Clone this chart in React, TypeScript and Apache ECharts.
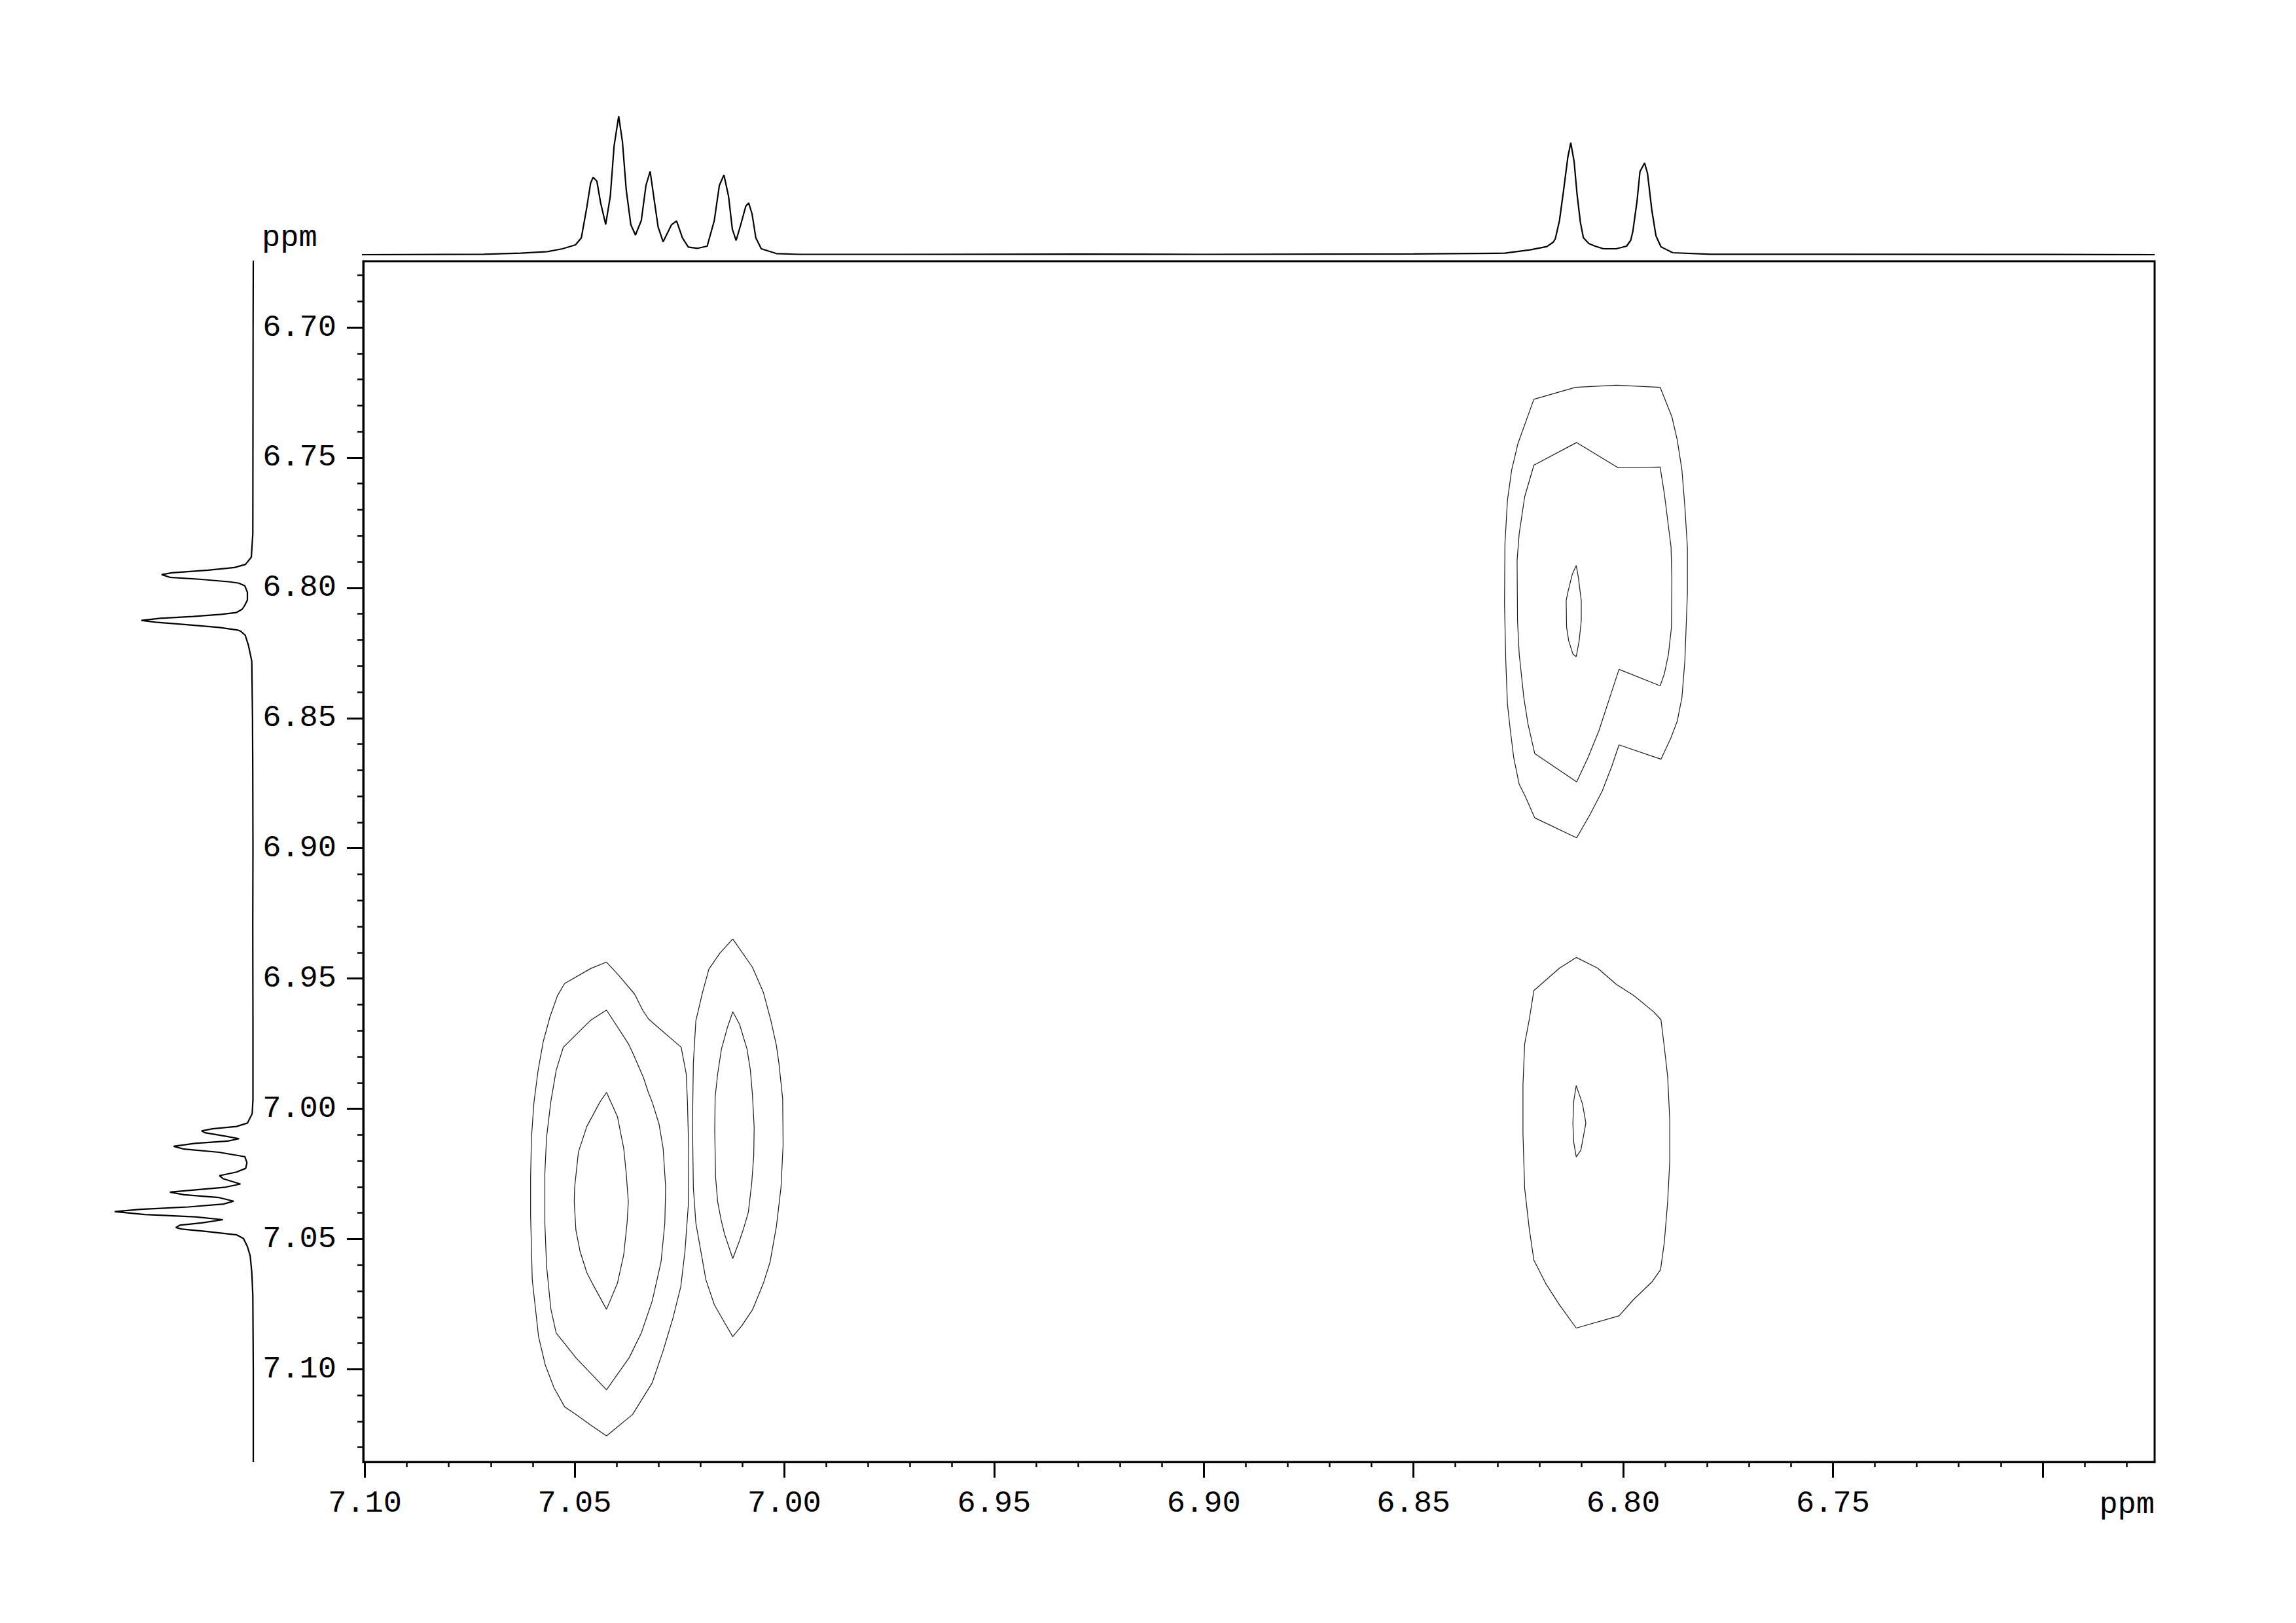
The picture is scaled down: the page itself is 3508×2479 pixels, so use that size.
import React, { useEffect, useRef } from "react";
import * as echarts from "echarts";

// ---- axis ranges (ppm) ----
const X_MIN = 6.6733;
const X_MAX = 7.1004;
const Y_MIN = 6.6746;
const Y_MAX = 7.1356;
const INT_MAX = 230;

// ---- tick positions / labels ----
const xMajorTicks = [7.1, 7.05, 7.0, 6.95, 6.9, 6.85, 6.8, 6.75, 6.7];
const xTickLabels = [7.1, 7.05, 7.0, 6.95, 6.9, 6.85, 6.8, 6.75];
const yMajorTicks = [6.7, 6.75, 6.8, 6.85, 6.9, 6.95, 7.0, 7.05, 7.1];
const yTickLabels = [6.7, 6.75, 6.8, 6.85, 6.9, 6.95, 7.0, 7.05, 7.1];
const xMinorTicks: number[] = [];
for (let k = 668; k <= 710; k++) xMinorTicks.push(k / 100);
const yMinorTicks: number[] = [];
for (let k = 668; k <= 713; k++) yMinorTicks.push(k / 100);

// ---- 1D projection spectrum (ppm, intensity) ----
const spectrumPpm = [
  7.1356, 7.1004, 7.0717, 7.0628, 7.0565, 7.0529, 7.0498, 7.0484, 7.0471, 7.0462,
  7.0456, 7.0447, 7.0438, 7.0426, 7.0415, 7.0406, 7.0395, 7.0386, 7.0377, 7.0366,
  7.0355, 7.0341, 7.033, 7.032, 7.031, 7.0301, 7.0289, 7.0269, 7.0257, 7.0243,
  7.0229, 7.0207, 7.0184, 7.0167, 7.0155, 7.0144, 7.0133, 7.0124, 7.0115, 7.0104,
  7.0092, 7.0085, 7.0077, 7.0068, 7.0055, 7.0019, 6.9965, 6.97, 6.93, 6.9,
  6.87, 6.85, 6.8282, 6.8222, 6.8182, 6.8167, 6.8162, 6.8152, 6.8142, 6.8132,
  6.8125, 6.8117, 6.811, 6.8102, 6.8095, 6.8082, 6.8067, 6.8047, 6.8017, 6.7992,
  6.7982, 6.7977, 6.7967, 6.796, 6.7949, 6.7942, 6.7932, 6.7922, 6.791, 6.7882,
  6.7792, 6.7, 6.6733,
];
const spectrumIntensity = [
  0, 0, 0.7, 2.3, 4.7, 9, 15, 25.7, 72.3, 109,
  118.3, 112.3, 79, 46.3, 89, 165.7, 211.7, 172.3, 99, 45.7,
  30, 52.3, 105.7, 127.3, 82.3, 42.3, 19.7, 45.7, 51.7, 25.7,
  11.7, 9.7, 13, 52.3, 105.7, 121.7, 89, 39, 21.7, 45.7,
  74, 79, 62.3, 25.7, 9, 1.7, 0.5, 0.5, 0.8, 0.5,
  0.8, 1.2, 2.3, 7.3, 12.3, 19, 24, 52, 99, 149,
  171, 142, 92, 49, 26, 17, 13, 9, 9, 13,
  22, 35.7, 82, 127, 140, 124, 69, 29, 12, 3,
  0.7, 0.3, 0,
];

// ---- 2D contour levels, traced as [F2 ppm, F1 ppm] vertices ----
const contourA1 = [
  [7.0424, 6.9437], [7.0461, 6.9461], [7.0524, 6.9519], [7.0541, 6.9566], [7.0559, 6.9648],
  [7.0575, 6.9743], [7.0587, 6.9852], [7.0597, 6.9975], [7.0603, 7.0111], [7.0605, 7.0261],
  [7.0605, 7.0411], [7.0601, 7.0657], [7.0586, 7.0875], [7.057, 7.0984], [7.0549, 7.1072],
  [7.0524, 7.1144], [7.0497, 7.1174], [7.0461, 7.1215], [7.0424, 7.1256], [7.0362, 7.1174],
  [7.0315, 7.1052], [7.0289, 7.0929], [7.0266, 7.0806], [7.0247, 7.0684], [7.0237, 7.0548],
  [7.0229, 7.037], [7.0228, 7.0166], [7.0231, 6.9975], [7.0234, 6.9866], [7.0246, 6.9764],
  [7.031, 6.9675], [7.0324, 6.9655], [7.0338, 6.9621], [7.0357, 6.956], [7.0393, 6.9491],
];
const contourA2 = [
  [7.0424, 6.9621], [7.0461, 6.9659], [7.0527, 6.9764], [7.0544, 6.9852], [7.0557, 6.9975],
  [7.0567, 7.0111], [7.0571, 7.0248], [7.0571, 7.0439], [7.0567, 7.0602], [7.0557, 7.0766],
  [7.0544, 7.0861], [7.0527, 7.0895], [7.0497, 7.0956], [7.044, 7.1052], [7.0424, 7.1079],
  [7.0403, 7.1031], [7.037, 7.0956], [7.0341, 7.0861], [7.0315, 7.0738], [7.0294, 7.0588],
  [7.0285, 7.0439], [7.0283, 7.0302], [7.0289, 7.0152], [7.0299, 7.0057], [7.0315, 6.9975],
  [7.0325, 6.9934], [7.0336, 6.988], [7.0362, 6.9784], [7.0372, 6.975],
];
const contourA3 = [
  [7.0424, 6.9937], [7.044, 6.9975], [7.0471, 7.0068], [7.0491, 7.0166], [7.05, 7.0302],
  [7.0501, 7.0357], [7.0497, 7.0466], [7.0487, 7.0548], [7.0471, 7.0629], [7.0458, 7.067],
  [7.0424, 7.077], [7.0398, 7.067], [7.0383, 7.0561], [7.0375, 7.0439], [7.0372, 7.0357],
  [7.0377, 7.0248], [7.0383, 7.0152], [7.0398, 7.003],
];
const contourB1 = [
  [7.0123, 6.9348], [7.0154, 6.9403], [7.018, 6.9464], [7.0195, 6.9553], [7.0211, 6.9662],
  [7.0217, 6.9825], [7.0219, 7.0057], [7.0217, 7.0302], [7.0211, 7.0439], [7.0196, 7.0575],
  [7.0187, 7.0657], [7.0167, 7.0752], [7.0143, 7.082], [7.0123, 7.0875], [7.0102, 7.0834],
  [7.0076, 7.0772], [7.005, 7.067], [7.0034, 7.0588], [7.0019, 7.0452], [7.0008, 7.0302],
  [7.0003, 7.0139], [7.0004, 6.9962], [7.0013, 6.9825], [7.0019, 6.9757], [7.0032, 6.9662],
  [7.005, 6.9553], [7.0076, 6.9457],
];
const contourB2 = [
  [7.0123, 6.9628], [7.0136, 6.9689], [7.015, 6.9771], [7.0159, 6.9866], [7.0165, 6.9955],
  [7.0166, 7.0084], [7.0164, 7.0261], [7.0159, 7.0357], [7.0151, 7.0425], [7.0143, 7.0479],
  [7.0123, 7.0575], [7.0107, 7.0507], [7.0097, 7.0459], [7.0086, 7.0398], [7.0078, 7.0289],
  [7.0073, 7.018], [7.0072, 7.0071], [7.0076, 6.9948], [7.0081, 6.9852], [7.0089, 6.9771],
  [7.0107, 6.9675],
];
const contourC1 = [
  [6.8213, 6.7276], [6.8114, 6.723], [6.8016, 6.7222], [6.7912, 6.723], [6.7884, 6.7343],
  [6.7871, 6.7433], [6.786, 6.7548], [6.7853, 6.7689], [6.7847, 6.7843], [6.7847, 6.8023],
  [6.7853, 6.828], [6.786, 6.8421], [6.7871, 6.8511], [6.7886, 6.8575], [6.791, 6.8658],
  [6.801, 6.8603], [6.8027, 6.8684], [6.805, 6.878], [6.8079, 6.887], [6.8111, 6.896],
  [6.8211, 6.8883], [6.8232, 6.8806], [6.8248, 6.8754], [6.8261, 6.8652], [6.8269, 6.8549],
  [6.8276, 6.8446], [6.828, 6.828], [6.8283, 6.8062], [6.8282, 6.7831], [6.8276, 6.7664],
  [6.8266, 6.7548], [6.8251, 6.7446],
];
const contourC2 = [
  [6.8213, 6.7529], [6.8111, 6.7442], [6.8012, 6.7539], [6.7912, 6.7536], [6.7902, 6.7638],
  [6.7892, 6.7766], [6.7886, 6.7843], [6.7884, 6.7972], [6.7885, 6.8151], [6.7892, 6.8254],
  [6.7902, 6.8331], [6.7912, 6.8376], [6.801, 6.8313], [6.8032, 6.8421], [6.8058, 6.8549],
  [6.8084, 6.8652], [6.8111, 6.8745], [6.8211, 6.8636], [6.8227, 6.8523], [6.8237, 6.8421],
  [6.8248, 6.8254], [6.8252, 6.8126], [6.8253, 6.7895], [6.8248, 6.7792], [6.8235, 6.7651],
];
const contourC3 = [
  [6.8112, 6.7914], [6.8121, 6.7946], [6.8131, 6.801], [6.8136, 6.8049], [6.8135, 6.8151],
  [6.813, 6.8203], [6.812, 6.8254], [6.8112, 6.8264], [6.8105, 6.8203], [6.81, 6.8126],
  [6.81, 6.8049], [6.8107, 6.7959],
];
const contourD1 = [
  [6.8112, 6.9419], [6.8152, 6.946], [6.8213, 6.9546], [6.8224, 6.9658], [6.8235, 6.9752],
  [6.8239, 6.9909], [6.8239, 7.0096], [6.8235, 7.0305], [6.8224, 7.0461], [6.8213, 7.0581],
  [6.8185, 7.067], [6.8152, 7.0753], [6.8112, 7.0842], [6.801, 7.0795], [6.7975, 7.0732],
  [6.7931, 7.0664], [6.7911, 7.0618], [6.7902, 7.0513], [6.7894, 7.0357], [6.7889, 7.0201],
  [6.7889, 7.0044], [6.7894, 6.9877], [6.7902, 6.9763], [6.791, 6.9658], [6.7928, 6.9627],
  [6.7975, 6.9565], [6.8016, 6.9523], [6.8061, 6.946],
];
const contourD2 = [
  [6.8112, 6.9911], [6.8118, 6.9971], [6.812, 7.0055], [6.8118, 7.0128], [6.8112, 7.0185],
  [6.8101, 7.0159], [6.8089, 7.0055], [6.8097, 6.9982],
];
const contours = [
  contourA1, contourA2, contourA3, contourB1, contourB2,
  contourC1, contourC2, contourC3, contourD1, contourD2,
];

const FONT = "'Liberation Mono', 'DejaVu Sans Mono', monospace";
const FONT_SIZE = 47;

export default function App() {
  const ref = useRef<HTMLDivElement>(null);

  useEffect(() => {
    if (!ref.current) return;
    const chart = echarts.init(ref.current, null, { renderer: "svg" });

    const fmt = (v: number) => Number(v).toFixed(2);

    const topData = spectrumPpm.map((p, i) => [p, spectrumIntensity[i]]);
    const leftData = spectrumPpm.map((p, i) => [spectrumIntensity[i], p]);

    const contourSeries = contours.map((c) => ({
      type: "line",
      xAxisIndex: 0,
      yAxisIndex: 0,
      data: [...c, c[0]],
      showSymbol: false,
      symbol: "none",
      silent: true,
      clip: true,
      lineStyle: { color: "#1a1a1a", width: 1.2 },
      z: 3,
    }));

    const option: any = {
      animation: false,
      backgroundColor: "#ffffff",
      grid: [
        {
          left: 555, top: 399, width: 2737, height: 1834,
          show: true, borderColor: "#000", borderWidth: 3,
          backgroundColor: "transparent", containLabel: false,
        },
        { left: 555, top: 389 - INT_MAX, width: 2737, height: INT_MAX, containLabel: false },
        { left: 387 - INT_MAX, top: 399, width: INT_MAX, height: 1834, containLabel: false },
      ],
      xAxis: [
        {
          gridIndex: 0, type: "value", min: X_MIN, max: X_MAX, inverse: true,
          position: "bottom", splitLine: { show: false },
          axisLine: { show: true, onZero: false, lineStyle: { color: "#000", width: 3 } },
          axisTick: {
            show: true, customValues: xMajorTicks, length: 24, inside: false,
            lineStyle: { color: "#000", width: 3 },
          },
          axisLabel: {
            show: true, customValues: xTickLabels, formatter: fmt, margin: 40,
            color: "#000", fontFamily: FONT, fontSize: FONT_SIZE,
          },
        },
        {
          gridIndex: 0, type: "value", min: X_MIN, max: X_MAX, inverse: true,
          position: "bottom", splitLine: { show: false },
          axisLine: { show: false, onZero: false },
          axisTick: {
            show: true, customValues: xMinorTicks, length: 8, inside: false,
            lineStyle: { color: "#000", width: 2.5 },
          },
          axisLabel: { show: false },
        },
        {
          gridIndex: 1, type: "value", min: X_MIN, max: X_MAX, inverse: true, show: false,
        },
        {
          gridIndex: 2, type: "value", min: 0, max: INT_MAX, inverse: true, show: false,
        },
      ],
      yAxis: [
        {
          gridIndex: 0, type: "value", min: Y_MIN, max: Y_MAX, inverse: true,
          position: "left", splitLine: { show: false },
          axisLine: { show: true, onZero: false, lineStyle: { color: "#000", width: 3 } },
          axisTick: {
            show: true, customValues: yMajorTicks, length: 25, inside: false,
            lineStyle: { color: "#000", width: 3 },
          },
          axisLabel: {
            show: true, customValues: yTickLabels, formatter: fmt, margin: 41,
            color: "#000", fontFamily: FONT, fontSize: FONT_SIZE,
          },
        },
        {
          gridIndex: 0, type: "value", min: Y_MIN, max: Y_MAX, inverse: true,
          position: "left", splitLine: { show: false },
          axisLine: { show: false, onZero: false },
          axisTick: {
            show: true, customValues: yMinorTicks, length: 9, inside: false,
            lineStyle: { color: "#000", width: 2.5 },
          },
          axisLabel: { show: false },
        },
        { gridIndex: 1, type: "value", min: 0, max: INT_MAX, show: false },
        { gridIndex: 2, type: "value", min: Y_MIN, max: Y_MAX, inverse: true, show: false },
      ],
      series: [
        {
          type: "line", xAxisIndex: 2, yAxisIndex: 2, data: topData,
          showSymbol: false, symbol: "none", silent: true, clip: true,
          lineStyle: { color: "#000", width: 2.2 },
        },
        {
          type: "line", xAxisIndex: 3, yAxisIndex: 3, data: leftData,
          showSymbol: false, symbol: "none", silent: true, clip: true,
          lineStyle: { color: "#000", width: 2.2 },
        },
        ...contourSeries,
      ],
      graphic: [
        {
          type: "text", left: 400, top: 340,
          style: {
            text: "ppm", fill: "#000", font: `${FONT_SIZE}px ${FONT}`,
            fontFamily: FONT, fontSize: FONT_SIZE,
          },
        },
        {
          type: "text", right: 3508 - 3292, top: 2275,
          style: {
            text: "ppm", fill: "#000", font: `${FONT_SIZE}px ${FONT}`,
            fontFamily: FONT, fontSize: FONT_SIZE,
          },
        },
      ],
    };

    chart.setOption(option);
    return () => chart.dispose();
  }, []);

  return (
    <div
      ref={ref}
      style={{ position: "absolute", left: 0, top: 0, width: 3508, height: 2479 }}
    />
  );
}
